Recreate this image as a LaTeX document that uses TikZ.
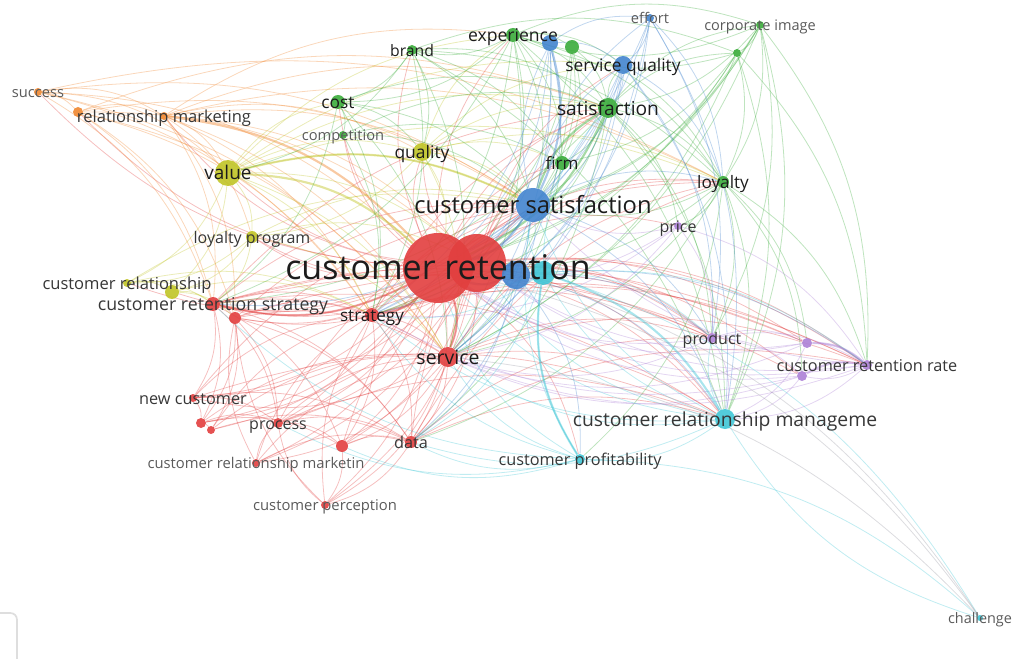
\documentclass[tikz,border=0pt]{standalone}
\usepackage{fontspec}
\setmainfont{Open Sans}
\definecolor{cred}{RGB}{226,62,62}
\definecolor{cgreen}{RGB}{58,172,58}
\definecolor{cblue}{RGB}{66,132,206}
\definecolor{cyellow}{RGB}{192,196,38}
\definecolor{corange}{RGB}{240,135,48}
\definecolor{cpurple}{RGB}{172,128,214}
\definecolor{ccyan}{RGB}{64,198,214}
\definecolor{cgray}{RGB}{150,150,160}
\definecolor{labdark}{RGB}{28,28,28}
\definecolor{labmid}{RGB}{55,55,55}
\definecolor{lablight}{RGB}{90,90,90}
\pgfdeclarelayer{edges}
\pgfsetlayers{edges,main}
\newcommand\links[2]{\foreach \s/\t in {#2}{\draw[#1] (\s) to (\t);}}
\begin{document}
\begin{tikzpicture}[x=0.75pt,y=-0.75pt,
  dot/.style 2 args={circle,inner sep=0pt,minimum size={1.5pt*#2},fill=#1,fill opacity=0.9},
  lab/.style={inner sep=0pt,anchor=base,yshift={-0.27pt*#1-1.4pt},
    font=\fontsize{#1}{#1}\selectfont,text=labdark},
  mid/.style={text=labmid},
  light/.style={text=lablight},
  link/.style={line width=0.6pt,draw opacity=0.33,bend left=20},
  lred/.style={link,draw=cred},
  lgreen/.style={link,draw=cgreen},
  lblue/.style={link,draw=cblue},
  lyellow/.style={link,draw=cyellow},
  lorange/.style={link,draw=corange},
  lpurple/.style={link,draw=cpurple},
  lcyan/.style={link,draw=ccyan},
  lgray/.style={link,draw=cgray},
  strong/.style={line width=1.6pt,draw opacity=0.45}]
\useasboundingbox (0,0) rectangle (1013,659);
\clip (0,0) rectangle (1013,659);

% corner of a panel button
\draw[rounded corners=5pt,draw=black!13,line width=1.3pt] (-40,613) rectangle (17,720);

% ---- nodes (circles) ----
\node[dot={cred}{35}] (cr) at (438,268) {};
\node[dot={cred}{29}] (r1) at (477,263) {};
\node[dot={cblue}{14}] (b3) at (516,275) {};
\node[dot={ccyan}{12}] (c1) at (543,273) {};
\node[dot={cblue}{17}] (cs) at (533,205) {};
\node[dot={cgreen}{7}] (exp) at (513,35) {};
\node[dot={cblue}{8}] (b2) at (550,43) {};
\node[dot={cgreen}{7}] (g2) at (572,47) {};
\node[dot={cblue}{4}] (ef) at (650,18) {};
\node[dot={cgreen}{4}] (ci) at (760,25) {};
\node[dot={cgreen}{4}] (g3) at (737,53) {};
\node[dot={cblue}{9}] (sq) at (623,65) {};
\node[dot={cgreen}{5}] (br) at (412,50) {};
\node[dot={cgreen}{10}] (sat) at (608,108) {};
\node[dot={cgreen}{7}] (cost) at (338,102) {};
\node[dot={cgreen}{4}] (comp) at (343,135) {};
\node[dot={cyellow}{9}] (qual) at (422,152) {};
\node[dot={cgreen}{7}] (firm) at (562,163) {};
\node[dot={cgreen}{6}] (loy) at (723,182) {};
\node[dot={cyellow}{13}] (val) at (228,173) {};
\node[dot={corange}{4}] (succ) at (38,92) {};
\node[dot={corange}{5}] (o1) at (78,112) {};
\node[dot={corange}{4}] (rm) at (164,116) {};
\node[dot={cyellow}{6}] (lp) at (252,237) {};
\node[dot={cpurple}{4}] (pri) at (678,226) {};
\node[dot={cyellow}{4}] (crel) at (127,283) {};
\node[dot={cyellow}{7}] (y2) at (172,292) {};
\node[dot={cred}{7}] (crs) at (213,304) {};
\node[dot={cred}{6}] (r2) at (235,318) {};
\node[dot={cred}{7}] (strat) at (372,315) {};
\node[dot={cred}{10}] (serv) at (448,357) {};
\node[dot={cpurple}{5}] (prod) at (712,338) {};
\node[dot={cpurple}{5}] (p2) at (807,343) {};
\node[dot={cpurple}{5}] (crr) at (867,365) {};
\node[dot={cpurple}{5}] (p3) at (802,376) {};
\node[dot={ccyan}{10}] (crm) at (725,419) {};
\node[dot={cred}{4}] (nc) at (193,398) {};
\node[dot={cred}{5}] (r3) at (201,423) {};
\node[dot={cred}{4}] (r4) at (211,430) {};
\node[dot={cred}{5}] (proc) at (278,423) {};
\node[dot={cred}{6}] (r5) at (342,446) {};
\node[dot={cred}{6}] (data) at (411,442) {};
\node[dot={cred}{4}] (crmk) at (256,463) {};
\node[dot={cred}{4}] (cp) at (325,505) {};
\node[dot={ccyan}{5}] (cprof) at (580,459) {};
\node[dot={ccyan}{3}] (chal) at (980,618) {};

% ---- links ----
\begin{pgfonlayer}{edges}
\links{lred}{cr/r1,cr/crs,cr/r2,cr/strat,cr/serv,cr/nc,cr/r3,cr/r4,cr/proc,cr/r5,cr/data,cr/crmk,cr/cp,cr/rm,cr/o1,cr/succ,cr/lp,cr/crel,cr/y2,cr/qual,cr/cost,cr/comp,cr/br,cr/exp,cr/prod,cr/p2,cr/crr,cr/p3,cr/crm,cr/cprof,cr/pri,cr/loy,cr/firm,cr/sat}
\links{lred}{r1/cs,r1/sq,r1/sat,r1/firm,r1/crs,r1/strat,r1/serv,r1/data,r1/r5,r1/proc,r1/nc,r1/val,r1/lp,r1/qual,r1/loy,r1/crm,r1/prod,r1/crr,r1/cp,r1/crmk,r1/r3,r1/r2}
\links{lred}{crs/r2,crs/strat,crs/serv,crs/nc,crs/proc,crs/data,crs/r3,crs/r5,r2/strat,r2/proc,r2/r3,r2/r4,r2/serv,r2/data,strat/serv,strat/data,strat/proc,strat/r5,serv/data,serv/r5,serv/crmk,serv/cp,serv/nc,nc/r3,nc/proc,nc/strat,r3/r4,r3/proc,r3/serv,r4/strat,r4/serv,proc/r5,proc/serv,proc/data,r5/data,r5/cp,data/cp,crmk/serv,crmk/strat,crmk/proc,crmk/r2,cp/strat,cp/r2,cp/proc,crmk/data,nc/data,r4/data,r3/r5}
\links{lred}{serv/crm,serv/prod,serv/crr,strat/p2,crs/p3,strat/cs,serv/cs,data/crm,crs/cs,r2/cs,nc/cs,proc/cs,strat/sat,crs/sat,serv/sat,strat/loy,serv/loy,data/loy,r5/cs,data/cs,crs/crm,proc/crm,nc/crm,strat/crr,data/crr,crs/crr,strat/prod,crs/prod,data/prod,r2/p2}
\links{lred,strong}{cr/serv,cr/strat,cr/crs}
\links{lorange}{succ/o1,succ/rm,succ/cr,succ/crs,succ/strat,succ/val,o1/rm,o1/crs,o1/serv,o1/strat,o1/r2,rm/crs,rm/val,rm/lp,rm/strat,rm/serv,rm/qual,rm/loy,rm/cs,rm/r1,o1/cs,succ/serv,succ/loy,succ/cs,rm/sat,rm/exp,o1/sat,o1/r1,rm/r2}
\links{lorange,strong}{rm/cr}
\links{lyellow}{val/qual,val/lp,val/crel,val/y2,val/cs,val/sat,val/loy,val/strat,val/r1,qual/cr,qual/cs,qual/sat,qual/loy,qual/lp,lp/crel,lp/y2,lp/crs,lp/r1,crel/y2,crel/crs,y2/crs,y2/strat,y2/r2,val/cost,val/serv,crel/strat,lp/cs,val/sq,val/exp,qual/exp,qual/sq,qual/firm,qual/serv,lp/serv,crel/cs}
\links{lyellow,strong}{val/cr,val/cs}
\links{lgreen}{exp/br,exp/sat,exp/cs,exp/firm,exp/loy,exp/g2,exp/sq,exp/cost,exp/r1,br/cost,br/sat,br/loy,br/cs,br/firm,br/qual,cost/comp,cost/qual,cost/cs,cost/sat,cost/strat,comp/cs,comp/firm,comp/sat,sat/sq,sat/cs,sat/loy,sat/firm,sat/g3,sat/ci,sat/crm,sat/pri,sat/r1,g2/sat,g2/cs,g2/cr,g2/firm,g2/loy,ci/g3,ci/loy,ci/sat,ci/cs,ci/crm,ci/cr,ci/exp,g3/loy,g3/cr,g3/cs,g3/exp,g3/firm,firm/cs,loy/cs,loy/crm,loy/prod,loy/crr,loy/pri,loy/cprof,loy/cr,exp/ci,br/g3}
\links{lgreen}{ci/serv,ci/strat,g3/serv,loy/serv,exp/serv,exp/strat,br/strat,br/serv,cost/crs,exp/crs,br/val,loy/p2,loy/p3,ci/prod,ci/crr,g3/crm,g3/crr,sat/prod,exp/crm,br/crm,sat/crs,g2/serv,firm/serv,firm/strat,cost/serv,comp/strat,sat/data,loy/data}
\links{lgreen,strong}{sat/cr,cs/sat}
\links{lblue}{cs/b2,cs/sq,cs/ef,cs/serv,cs/strat,cs/crm,cs/loy,cs/b3,b2/sq,b2/cr,b2/b3,b2/ef,ef/sq,ef/cr,ef/loy,ef/b3,sq/cr,sq/b3,sq/sat,sq/loy,b3/serv,b3/crm,b3/prod,b3/crr,cs/prod,b2/r1,sq/r1,ef/crm,ef/serv,ef/strat,sq/serv,sq/strat,sq/crm,sq/prod,ef/prod,b2/serv,b2/strat,cs/crs,cs/data,b3/cprof,b3/data}
\links{lblue,strong}{cs/cr,b2/cs,b3/cr}
\links{lpurple}{pri/prod,pri/crr,pri/cr,pri/cs,prod/p2,prod/crr,prod/p3,prod/cr,prod/crm,p2/crr,p2/cr,p2/crm,crr/p3,crr/cr,crr/crm,p3/cr,p3/crm,crr/cs,p2/r1,crr/r1,pri/serv,pri/strat,p2/serv,p3/serv,p3/strat,prod/serv,crr/serv}
\links{lpurple,strong}{p2/crr,p3/crr}
\links{lcyan}{crm/cr,crm/c1,crm/cprof,crm/cs,crm/serv,crm/prod,crm/strat,crm/data,cprof/cr,cprof/c1,cprof/serv,cprof/data,cprof/strat,cprof/crs,c1/cr,c1/serv,c1/cs,c1/crr,c1/prod,crm/r1,cprof/cs,cprof/proc,cprof/r5,c1/strat,c1/data,c1/sat}
\links{lcyan,strong}{c1/crm,cprof/c1}
\links{lcyan}{chal/crm,cprof/chal,c1/chal}
\links{lgray}{cr/chal,r1/chal,serv/chal}
\end{pgfonlayer}

% ---- labels ----
\node[lab=25.5] at (cr) {customer retention};
\node[lab=17.8] at (cs) {customer satisfaction};
\node[lab=14.5,mid] at (crm) {customer relationship manageme};
\node[lab=14.4] at (sat) {satisfaction};
\node[lab=14.2] at (val) {value};
\node[lab=14.6] at (serv) {service};
\node[lab=13.2] at (exp) {experience};
\node[lab=13] at (sq) {service quality};
\node[lab=13.1] at (qual) {quality};
\node[lab=12.9] at (loy) {loyalty};
\node[lab=12.8] at (firm) {firm};
\node[lab=13] at (cost) {cost};
\node[lab=11.8] at (br) {brand};
\node[lab=12.8] at (strat) {strategy};
\node[lab=13.3,mid] at (crs) {customer retention strategy};
\node[lab=12,mid] at (prod) {product};
\node[lab=12.2,mid] at (crr) {customer retention rate};
\node[lab=12.2,mid] at (cprof) {customer profitability};
\node[lab=12,mid] at (lp) {loyalty program};
\node[lab=12.4,mid] at (crel) {customer relationship};
\node[lab=12.4,mid] at (rm) {relationship marketing};
\node[lab=12.2,mid] at (nc) {new customer};
\node[lab=12,mid] at (proc) {process};
\node[lab=12.2,mid] at (data) {data};
\node[lab=12,mid] at (pri) {price};
\node[lab=11.1,light] at (crmk) {customer relationship marketin};
\node[lab=11.1,light] at (cp) {customer perception};
\node[lab=11,light] at (comp) {competition};
\node[lab=10.9,light] at (ci) {corporate image};
\node[lab=11,light] at (ef) {effort};
\node[lab=11,light] at (succ) {success};
\node[lab=10.8,light] at (chal) {challenge};
\end{tikzpicture}
\end{document}
